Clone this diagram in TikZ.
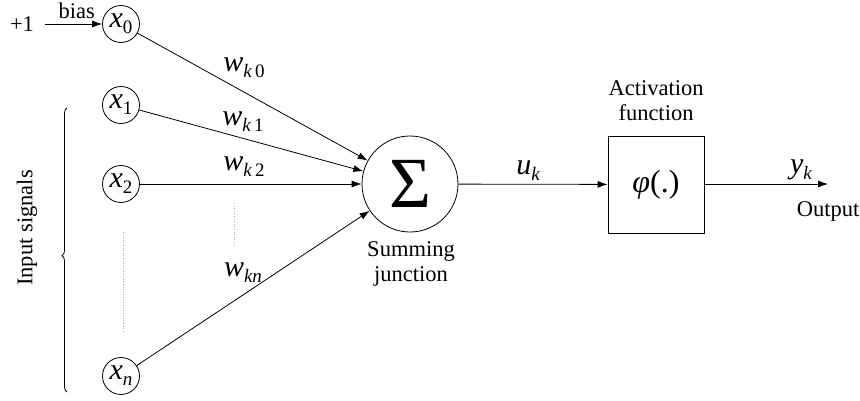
\documentclass[tikz,border=0pt]{standalone}
\usepackage{fontspec}
\setmainfont{Liberation Serif}
\usetikzlibrary{arrows.meta,decorations.pathreplacing}
\newcommand{\mvar}[2]{{\fontsize{30}{32}\selectfont\itshape #1}\raisebox{-6pt}{\fontsize{19}{20}\selectfont #2}}
\begin{document}
\begin{tikzpicture}[x=1pt,y=-1pt,
  txt/.style={font=\fontsize{22.5}{25}\selectfont, align=center, inner sep=0pt},
  innode/.style={draw, circle, line width=0.8pt, minimum size=37pt, inner sep=0pt},
  conn/.style={line width=0.8pt, -{Latex[length=10pt,width=7pt]}},
  dots/.style={gray!60, dotted, line width=0.6pt}]
\useasboundingbox (0,0) rectangle (860,400);
% input nodes
\node[innode] (x0) at (121,24) {\mvar{x}{0}};
\node[innode] (x1) at (121,105) {\mvar{x}{1}};
\node[innode] (x2) at (121,184) {\mvar{x}{2}};
\node[innode] (xn) at (121,376) {\mvar{x}{\itshape n}};
% bias
\node[txt, inner xsep=11pt] (p1) at (22,24) {+1};
\draw[conn] (p1) -- (x0) node[txt, midway, above, yshift=5pt, xshift=3pt] {bias};
% summing junction
\node[draw, circle, line width=0.8pt, minimum size=96pt, inner sep=0pt] (sum) at (410,184) {\fontsize{72}{72}\selectfont Σ};
\node[txt] (sumlab) at (411,264) {Summing\\junction};
% weights
\draw[conn] (x0) -- (sum);
\draw[conn] (x1) -- (sum);
\draw[conn] (x2) -- (sum);
\draw[conn] (xn) -- (sum);
\node[inner sep=0pt] (w0) at (244,68) {\mvar{w}{\itshape k\,\upshape 0}};
\node[inner sep=0pt] (w1) at (243,122) {\mvar{w}{\itshape k\,\upshape 1}};
\node[inner sep=0pt] (w2) at (244,167) {\mvar{w}{\itshape k\,\upshape 2}};
\node[inner sep=0pt] (wn) at (243,273) {\mvar{w}{\itshape kn}};
% dotted continuation marks
\coordinate (d1a) at (234,203); \coordinate (d1b) at (234,246);
\coordinate (d2a) at (123,232); \coordinate (d2b) at (123,333);
\draw[dots] (d1a) -- (d1b);
\draw[dots] (d2a) -- (d2b);
% brace and label
\coordinate (bb) at (67,392); \coordinate (bt) at (67,108);
\draw[line width=0.8pt, decorate, decoration={brace, amplitude=5pt, aspect=0.48}] (bb) -- (bt);
\node[txt, rotate=90] (inlab) at (27,228) {Input signals};
% activation
\node[draw, line width=0.8pt, minimum width=96pt, minimum height=97pt, inner sep=0pt] (act) at (656,184.5) {{\fontsize{32}{34}\selectfont\itshape φ}{\fontsize{32}{34}\selectfont(.)}};
\node[txt] (actlab) at (656,101) {Activation\\function};
\draw[conn] (sum) -- (act) node[midway, above, inner sep=0pt, yshift=3pt, xshift=-5pt] {\mvar{u}{\itshape k}};
\coordinate (out) at (828,184);
\draw[conn] (act.east |- out) -- (out);
\node[inner sep=0pt] (yk) at (801,170) {\mvar{y}{\itshape k}};
\node[txt] (outlab) at (828,211) {Output};
\end{tikzpicture}
\end{document}
